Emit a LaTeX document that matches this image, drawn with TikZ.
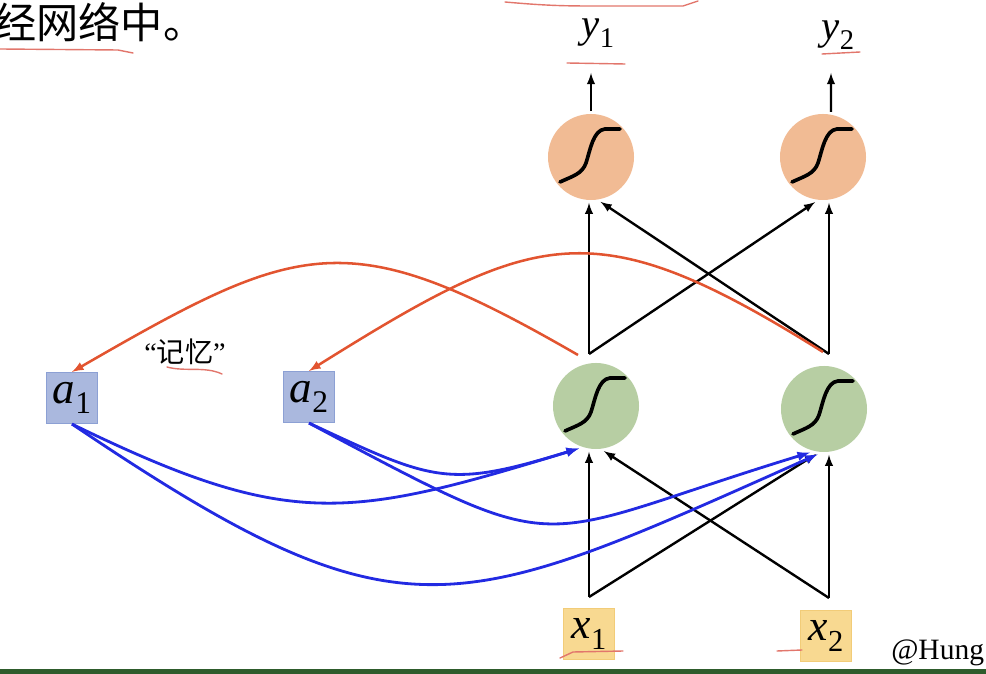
\documentclass[tikz,border=0pt]{standalone}
\usepackage{fontspec}
\usepackage{graphicx}
\usepackage{tikz}
\usetikzlibrary{arrows}
\setmainfont{Liberation Serif}
\newfontfamily\cjk{Noto Sans CJK SC}

\definecolor{peach}{RGB}{241,187,148}
\definecolor{sage}{RGB}{183,206,163}
\definecolor{memblue}{RGB}{170,184,222}
\definecolor{memedge}{RGB}{140,160,212}
\definecolor{inyellow}{RGB}{248,217,145}
\definecolor{inedge}{RGB}{242,204,120}
\definecolor{backred}{RGB}{226,84,48}
\definecolor{wireblue}{RGB}{34,42,226}
\definecolor{penred}{RGB}{226,118,108}
\definecolor{barGreen}{RGB}{46,92,44}

\newcommand{\lbl}[2]{\textit{#1}\raisebox{-0.24em}{\scalebox{0.7}{#2}}}

\begin{document}
\begin{tikzpicture}[x=0.025cm, y=0.025cm,
  neuron/.style = {circle, minimum size=2.15cm, inner sep=0pt, outer sep=2pt,
    path picture={\draw[line width=2.6pt, line cap=round, shift={(path picture bounding box.center)}]
      (-31,-25) .. controls (-18,-19) and (-9,-17) .. (-5,-6) .. controls (-1,6) and (2,27) .. (14,28) -- (29,28);}},
  memcell/.style = {rectangle, fill=memblue, draw=memedge, line width=0.8pt, minimum size=1.275cm, inner sep=0pt, font=\fontsize{32}{32}\selectfont},
  incell/.style = {rectangle, fill=inyellow, draw=inedge, line width=0.8pt, minimum size=1.275cm, inner sep=0pt, font=\fontsize{31}{31}\selectfont},
  outlbl/.style = {inner sep=0pt, font=\fontsize{29}{29}\selectfont},
  wire/.style = {-latex, line width=1.7pt},
  backarc/.style = {-latex, line width=1.8pt, draw=backred},
  recarc/.style = {-latex, line width=2pt, draw=wireblue},
  pen/.style = {draw=penred, line width=1pt, line cap=round}]
\useasboundingbox (0,0) rectangle (986,-674);
\clip (0,0) rectangle (986,-674);

% text
\node[anchor=west, inner sep=0pt, font=\cjk\fontsize{30}{30}\selectfont] (head) at (-6,-22) {经网络中。};
\node[font=\fontsize{20}{20}\selectfont, inner sep=0pt] (mem) at (185,-352) {“{\cjk 记忆}”};
\node[anchor=west, inner sep=0pt, font=\fontsize{21}{21}\selectfont] (sig) at (891,-653) {@Hung};

% units
\node[neuron, fill=peach] (o1) at (591,-157) {};
\node[neuron, fill=peach] (o2) at (823,-157) {};
\node[neuron, fill=sage] (g1) at (596,-406) {};
\node[neuron, fill=sage] (g2) at (824,-409) {};
\node[memcell] (a1) at (72,-398) {\lbl{a}{1}};
\node[memcell] (a2) at (309,-397) {\lbl{a}{2}};
\node[incell] (x1) at (589,-634) {\lbl{x}{1}};
\node[incell] (x2) at (826,-636) {\lbl{x}{2}};
\node[outlbl] (y1) at (598,-33) {\lbl{y}{1}};
\node[outlbl] (y2) at (838,-35) {\lbl{y}{2}};

\coordinate (v1) at (589,-354);
\coordinate (v2) at (829,-354);
\coordinate (w1) at (589,-597);
\coordinate (w2) at (829,-598);
\coordinate (t1) at (591,-73);
\coordinate (t2) at (831,-73);
\coordinate (r1) at (578,-355);
\coordinate (r2) at (823,-352);

% forward
\draw[wire] (o1.north) -- (t1);
\draw[wire] (o2.80) -- (t2);
\draw[wire] (v1) -- (v1 |- o1.south);
\draw[wire] (v1) -- (o2.-100);
\draw[wire] (v2) -- (v2 |- o2.south);
\draw[wire] (v2) -- (o1.-78);
\draw[wire] (w1) -- (w1 |- g1.south);
\draw[wire] (w1) -- (g2.-100);
\draw[wire] (w2) -- (w2 |- g2.south);
\draw[wire] (w2) -- (g1.-80);

% copy back
\draw[backarc] (r1) to[out=150, in=30, looseness=1.34] (a1.north);
\draw[backarc] (r2) to[out=148, in=32, looseness=1.34] (a2.north);

% memory in
\draw[recarc] (a1.south) to[out=-26, in=-163, looseness=1.22] (g1.-112);
\draw[recarc] (a1.south) to[out=-34, in=-156, looseness=1.37] (g2.-98);
\draw[recarc] (a2.south) to[out=-25, in=-163, looseness=1.3] (g1.-112);
\draw[recarc] (a2.south) to[out=-28, in=-163, looseness=1.53] (g2.-108);

% pen marks
\draw[pen] (0,-49) -- (118,-50) -- (133,-53);
\draw[pen] (505,-2) to[out=-5, in=180] (590,-6) -- (683,-6) -- (698,-1);
\draw[pen] (567,-63) -- (625,-64);
\draw[pen] (822,-54) -- (860,-52);
\draw[pen] (167,-367) .. controls (185,-372) and (205,-366) .. (222,-374);
\draw[pen] (560,-658) -- (573,-652) -- (623,-651);
\draw[pen] (777,-651) -- (802,-650);

\fill[barGreen] (0,-669) rectangle (986,-674);
\end{tikzpicture}
\end{document}
